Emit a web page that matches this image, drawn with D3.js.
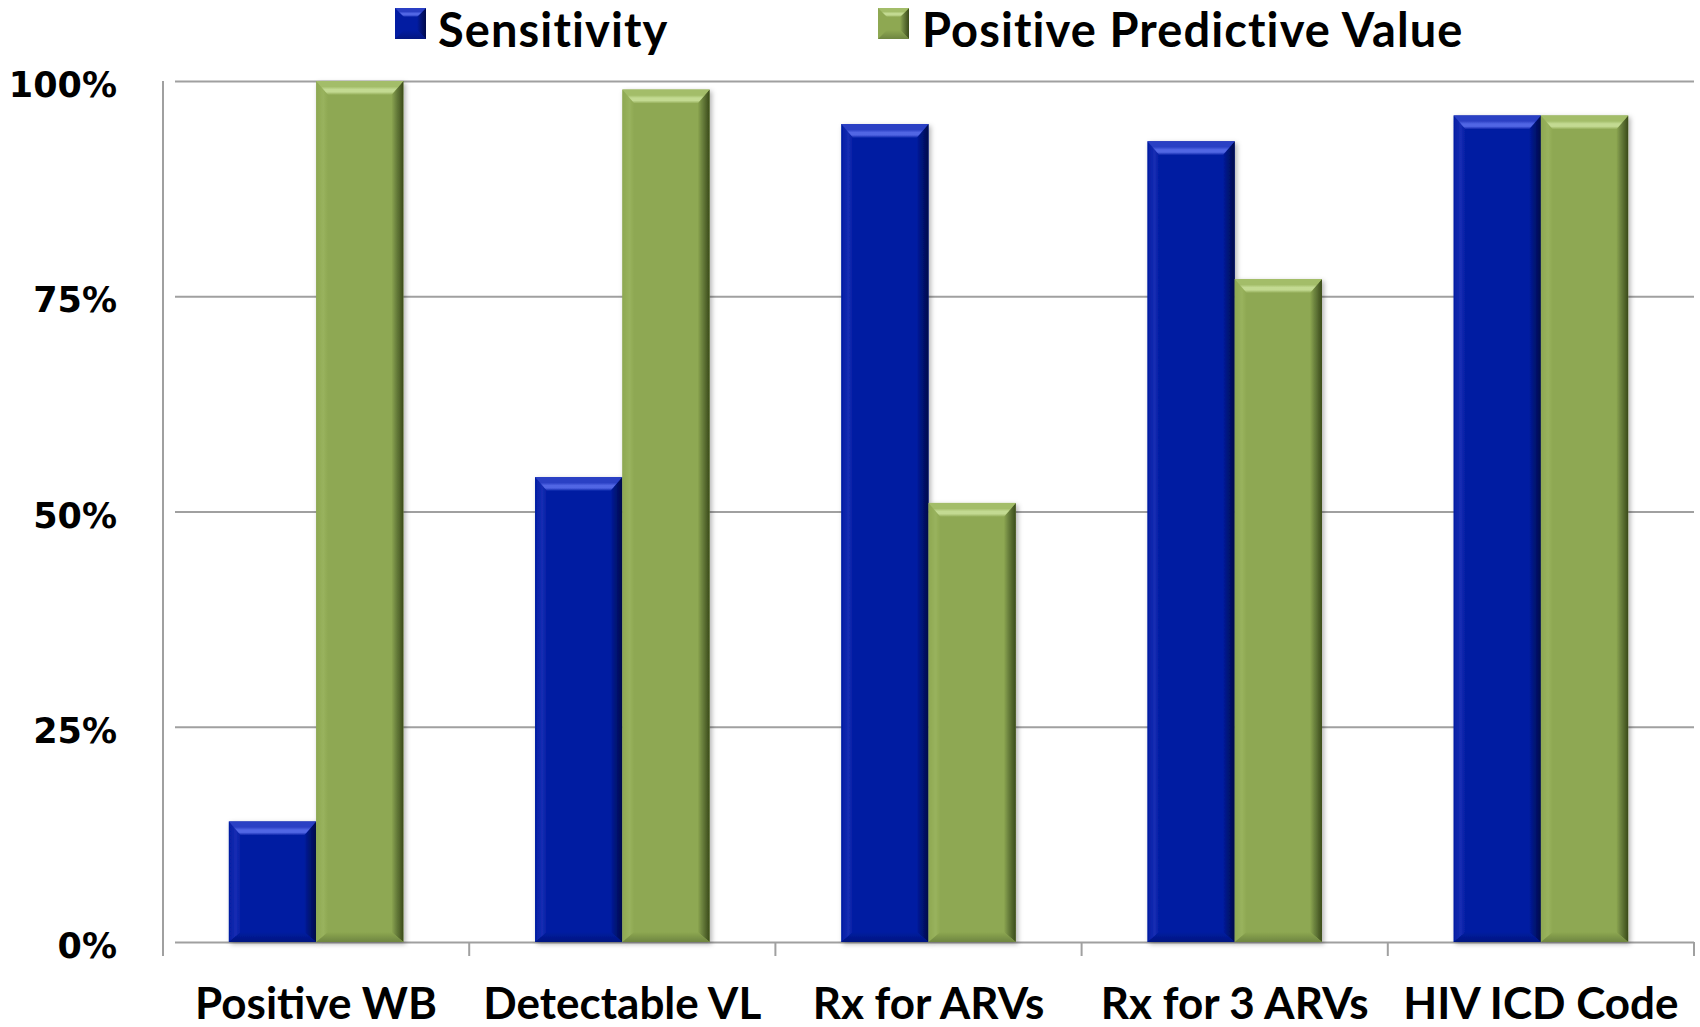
<!DOCTYPE html>
<html>
<head>
<meta charset="utf-8">
<script src="https://cdn.jsdelivr.net/npm/d3@7"></script>
<style>
  html, body { margin: 0; padding: 0; background: #fff; }
  svg { display: block; }
</style>
</head>
<body>
<svg id="chart" width="1700" height="1027"></svg>
<script>
// Tests compared against HIV status
const categories = ["Positive WB", "Detectable VL", "Rx for ARVs", "Rx for 3 ARVs", "HIV ICD Code"];
const seriesNames = ["Sensitivity", "Positive Predictive Value"];
const sensitivity = [14, 54, 95, 93, 96];
const ppv = [100, 99, 51, 77, 96];
const yTicks = [0, 25, 50, 75, 100];

const series = [sensitivity, ppv];
const palette = [
  { base: "#021ca2", light: "#2a3fc4", lighter: "#5166e4", dark: "#031680", darker: "#00094a" },
  { base: "#8ea852", light: "#a3bd69", lighter: "#c3da92", dark: "#6e8540", darker: "#3a4a1a" }
];

const svg = d3.select("#chart");
const plot = { left: 163, right: 1694, top: 81, bottom: 942 };

const x0 = d3.scaleBand()
  .domain(categories)
  .range([plot.left, plot.right])
  .paddingInner(0.43)
  .paddingOuter(0.215);
const x1 = d3.scaleBand()
  .domain(seriesNames)
  .range([0, x0.bandwidth()]);
const y = d3.scaleLinear().domain([0, 100]).range([plot.bottom, plot.top]);

const defs = svg.append("defs");
const shadow = defs.append("filter").attr("id", "barShadow")
  .attr("x", "-10%").attr("y", "-5%").attr("width", "130%").attr("height", "115%");
shadow.append("feDropShadow")
  .attr("dx", 2).attr("dy", 2).attr("stdDeviation", 2.5)
  .attr("flood-color", "#000").attr("flood-opacity", 0.3);

// Gradients for the bevel faces of each series
palette.forEach((p, i) => {
  const top = defs.append("linearGradient").attr("id", `top${i}`)
    .attr("x1", 0).attr("y1", 0).attr("x2", 0).attr("y2", 1);
  top.append("stop").attr("offset", "0%").attr("stop-color", p.light);
  top.append("stop").attr("offset", "40%").attr("stop-color", p.light);
  top.append("stop").attr("offset", "60%").attr("stop-color", p.lighter);
  top.append("stop").attr("offset", "78%").attr("stop-color", p.lighter);
  top.append("stop").attr("offset", "100%").attr("stop-color", p.base);
  const right = defs.append("linearGradient").attr("id", `right${i}`)
    .attr("x1", 0).attr("y1", 0).attr("x2", 1).attr("y2", 0);
  right.append("stop").attr("offset", "0%").attr("stop-color", p.base);
  right.append("stop").attr("offset", "35%").attr("stop-color", p.dark);
  right.append("stop").attr("offset", "100%").attr("stop-color", p.darker);
  const bottom = defs.append("linearGradient").attr("id", `bottom${i}`)
    .attr("x1", 0).attr("y1", 0).attr("x2", 0).attr("y2", 1);
  bottom.append("stop").attr("offset", "0%").attr("stop-color", p.base);
  bottom.append("stop").attr("offset", "100%").attr("stop-color", p.dark);
  const left = defs.append("linearGradient").attr("id", `left${i}`)
    .attr("x1", 0).attr("y1", 0).attr("x2", 1).attr("y2", 0);
  left.append("stop").attr("offset", "0%").attr("stop-color", p.base);
  left.append("stop").attr("offset", "60%").attr("stop-color", p.light);
  left.append("stop").attr("offset", "100%").attr("stop-color", p.base);
});

const gridColor = "#a0a0a0";

// Horizontal gridlines and y ticks
svg.append("g")
  .attr("transform", `translate(${plot.left},0)`)
  .call(d3.axisLeft(y).tickValues(yTicks).tickSize(-(plot.right - plot.left)).tickPadding(0).tickFormat(""))
  .call(g => g.select(".domain").remove())
  .call(g => g.selectAll(".tick line").attr("stroke", gridColor).attr("stroke-width", 2).attr("x1", 12));

// Y tick labels
svg.append("g").selectAll("text")
  .data(yTicks)
  .join("text")
  .attr("x", 117)
  .attr("y", d => y(d))
  .attr("dy", "0.46em")
  .attr("text-anchor", "end")
  .attr("font-family", "DejaVu Sans")
  .attr("font-weight", "bold")
  .attr("font-size", 35)
  .attr("fill", "#000")
  .text(d => d + "%");

// Vertical axis line
svg.append("line")
  .attr("x1", plot.left).attr("x2", plot.left)
  .attr("y1", plot.top).attr("y2", plot.bottom + 14)
  .attr("stroke", gridColor).attr("stroke-width", 2);

// Category boundary ticks below the baseline
const step = x0.step();
const boundaries = categories.map(c => x0(c) - step * x0.paddingInner() / 2)
  .concat([x0(categories[categories.length - 1]) + x0.bandwidth() + step * x0.paddingInner() / 2]);
svg.append("g").selectAll("line")
  .data(boundaries.slice(1))
  .join("line")
  .attr("x1", d => d).attr("x2", d => d)
  .attr("y1", plot.bottom).attr("y2", plot.bottom + 14)
  .attr("stroke", gridColor).attr("stroke-width", 2);

// Bevelled bars
const bevTop = 14, bevSide = 12, bevBottom = 10;
const groups = svg.append("g").selectAll("g")
  .data(categories)
  .join("g")
  .attr("transform", c => `translate(${x0(c)},0)`);

groups.each(function(c, ci) {
  const g = d3.select(this);
  seriesNames.forEach((s, si) => {
    const v = series[si][ci];
    const bx = x1(s), bw = x1.bandwidth();
    const by = y(v), bh = y(0) - y(v);
    const t = Math.min(bevTop, bh / 2), sd = bevSide, bt = Math.min(bevBottom, bh / 2);
    const bar = g.append("g").attr("filter", "url(#barShadow)");
    bar.append("rect")
      .attr("x", bx).attr("y", by).attr("width", bw).attr("height", bh)
      .attr("fill", palette[si].base);
    const x2 = bx + bw, y2 = by + bh;
    // left bevel
    bar.append("polygon")
      .attr("points", [[bx, by], [bx + sd, by + t], [bx + sd, y2 - bt], [bx, y2]].join(" "))
      .attr("fill", `url(#left${si})`)
      .attr("opacity", 0.5);
    // right bevel
    bar.append("polygon")
      .attr("points", [[x2, by], [x2, y2], [x2 - sd, y2 - bt], [x2 - sd, by + t]].join(" "))
      .attr("fill", `url(#right${si})`);
    // bottom bevel
    bar.append("polygon")
      .attr("points", [[bx, y2], [x2, y2], [x2 - sd, y2 - bt], [bx + sd, y2 - bt]].join(" "))
      .attr("fill", `url(#bottom${si})`);
    // top bevel
    bar.append("polygon")
      .attr("points", [[bx, by], [x2, by], [x2 - sd, by + t], [bx + sd, by + t]].join(" "))
      .attr("fill", `url(#top${si})`);
  });
});

// Category labels
svg.append("g").selectAll("text")
  .data(categories)
  .join("text")
  .attr("x", c => x0(c) + x0.bandwidth() / 2)
  .attr("y", 1019)
  .attr("text-anchor", "middle")
  .attr("font-family", "Lato")
  .attr("font-weight", "bold")
  .attr("font-size", 44)
  .attr("fill", "#000")
  .text(c => c);

// Legend
const legendItems = [
  { name: seriesNames[0], sx: 395, tx: 438 },
  { name: seriesNames[1], sx: 878, tx: 922 }
];
legendItems.forEach((it, i) => {
  const g = svg.append("g");
  const s = 31, sy = 8;
  const b = 9;
  g.append("rect").attr("x", it.sx).attr("y", sy).attr("width", s).attr("height", s).attr("fill", palette[i].base);
  g.append("polygon").attr("points", [[it.sx + s, sy], [it.sx + s, sy + s], [it.sx + s - b, sy + s - b], [it.sx + s - b, sy + b]].join(" ")).attr("fill", `url(#right${i})`);
  g.append("polygon").attr("points", [[it.sx, sy + s], [it.sx + s, sy + s], [it.sx + s - b, sy + s - b], [it.sx + b, sy + s - b]].join(" ")).attr("fill", `url(#bottom${i})`);
  g.append("polygon").attr("points", [[it.sx, sy], [it.sx + s, sy], [it.sx + s - b, sy + b], [it.sx + b, sy + b]].join(" ")).attr("fill", `url(#top${i})`);
  g.append("text")
    .attr("x", it.tx).attr("y", 47)
    .attr("font-family", "Lato")
    .attr("font-weight", "bold")
    .attr("font-size", 47)
    .attr("letter-spacing", 1.1)
    .attr("fill", "#000")
    .text(it.name);
});
</script>
</body>
</html>
